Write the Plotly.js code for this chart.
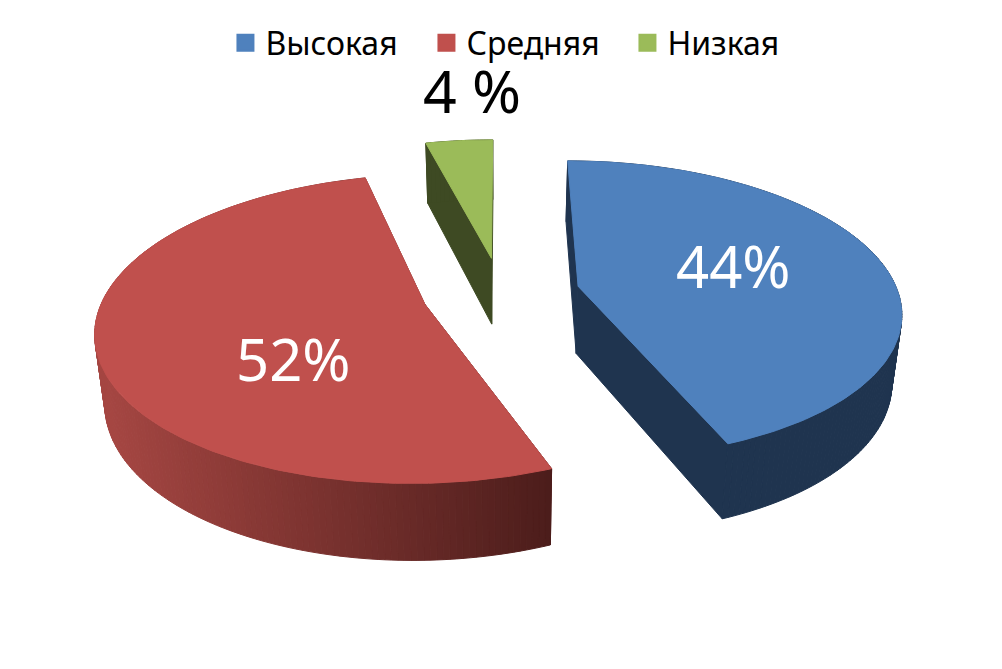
<!DOCTYPE html>
<html><head><meta charset="utf-8">
<script src="https://cdn.plot.ly/plotly-3.0.1.min.js"></script>
<style>html,body{margin:0;padding:0;background:#fff}#chart{width:1002px;height:669px}</style>
</head><body><div id="chart"></div>
<script>
const categories = ['Высокая', 'Средняя', 'Низкая'];
const shares = [44, 52, 4];
const sliceLabels = ['44%', '52%', '4 %'];
const topColors = ['#4F81BD', '#C0504D', '#9BBB59'];
const sideColors = ['#1F344F', null, '#3E4A23'];
const FONT = '"Noto Sans", "Open Sans", sans-serif';

// view of the tilted pie: ground plane to axis units
const view = {x0: 501, y0: 293, a: 320, b: 147, persp: 0.157, pull: 0.247, depth: 67.5, sx: 0.975, sy: 1.05};
function project(g, deep) {
  const w = 1 + view.persp * g[1];
  const px = view.a * g[0] / w, py = view.b * g[1] / w;
  return deep ? [view.x0 + view.sx * px, view.y0 + view.depth - view.sy * py]
              : [view.x0 + px, view.y0 - py];
}
function ground(mid, t) {
  const m = mid * Math.PI / 180, r = t * Math.PI / 180;
  return [view.pull * Math.sin(m) + Math.sin(r), view.pull * Math.cos(m) + Math.cos(r)];
}
function apex(mid) {
  const m = mid * Math.PI / 180;
  return [view.pull * Math.sin(m), view.pull * Math.cos(m)];
}
function poly(points, color) {
  const closed = points.concat([points[0]]);
  return {
    type: 'scatter', mode: 'lines', fill: 'toself', fillcolor: color,
    x: closed.map(p => p[0]), y: closed.map(p => p[1]),
    line: {color: color, width: 1}, showlegend: false, hoverinfo: 'skip'
  };
}
function redShade(x) {
  const f = Math.min(1, Math.max(0, (x - 105) / 445));
  const c = [[165, 70, 66], [76, 29, 27]];
  return 'rgb(' + [0, 1, 2].map(i => Math.round(c[0][i] + (c[1][i] - c[0][i]) * f)).join(',') + ')';
}

const total = shares.reduce((s, v) => s + v, 0);
const traces = [];
let start = 0;
const tops = [];
shares.forEach((v, i) => {
  const sweep = 360 * v / total, end = start + sweep, mid = start + sweep / 2;
  const ap = apex(mid);
  const arc = [];
  const n = Math.max(4, Math.ceil(sweep));
  for (let k = 0; k <= n; k++) arc.push(ground(mid, start + sweep * k / n));
  // radial cut faces
  [arc[0], arc[n]].forEach(e => {
    const face = [project(ap), project(e), project(e, true), project(ap, true)];
    traces.push(poly(face, sideColors[i] || redShade(project(e)[0])));
  });
  // outer wall in strips
  for (let k = 0; k < n; k++) {
    const g0 = arc[k], g1 = arc[k + 1];
    const strip = [project(g0), project(g1), project(g1, true), project(g0, true)];
    traces.push(poly(strip, sideColors[i] || redShade((strip[0][0] + strip[1][0]) / 2)));
  }
  tops.push(poly([project(ap)].concat(arc.map(g => project(g))), topColors[i]));
  start = end;
});
tops.forEach(t => traces.push(t));

// legend entries
categories.forEach((name, i) => traces.push({
  type: 'scatter', mode: 'markers', x: [null], y: [null], name: name,
  marker: {symbol: 'square', size: 16, color: topColors[i], line: {color: topColors[i], width: 2}}, hoverinfo: 'skip'
}));

const annotations = [
  {x: 733, y: 265, text: sliceLabels[0], color: '#fff', size: 58},
  {x: 293, y: 358, text: sliceLabels[1], color: '#fff', size: 58},
  {x: 472, y: 90, text: sliceLabels[2], color: '#000', size: 59}
].map(a => ({x: a.x, y: a.y, xref: 'x', yref: 'y', text: a.text, showarrow: false,
  font: {family: FONT, size: a.size, color: a.color}}));

Plotly.newPlot('chart', traces, {
  width: 1002, height: 669, margin: {l: 0, r: 0, t: 0, b: 0},
  paper_bgcolor: '#fff', plot_bgcolor: '#fff',
  xaxis: {range: [0, 1002], visible: false, fixedrange: true},
  yaxis: {range: [669, 0], visible: false, fixedrange: true},
  showlegend: true,
  legend: {orientation: 'h', x: 0.225, xanchor: 'left', y: 0.977, yanchor: 'top',
    font: {family: FONT, size: 32, color: '#000'}, itemwidth: 30,
    entrywidth: 156, entrywidthmode: 'pixels', itemsizing: 'trace', bgcolor: 'rgba(0,0,0,0)'},
  annotations: annotations
}, {staticPlot: true, displayModeBar: false});
</script></body></html>
